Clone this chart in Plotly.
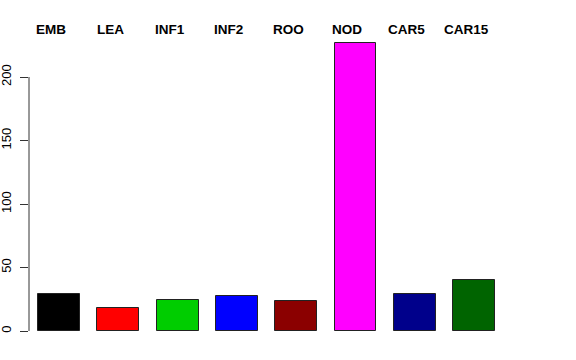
import plotly.graph_objects as go

categories = ["EMB", "LEA", "INF1", "INF2", "ROO", "NOD", "CAR5", "CAR15"]
values = [29.1, 17.9, 24.2, 27.6, 23.6, 226.5, 29.1, 39.9]
colors = ["#000000", "#FF0000", "#00CD00", "#0000FF", "#8B0000", "#FF00FF", "#00008B", "#006400"]
y_ticks = [0, 50, 100, 150, 200]

W, H = 576, 360
left, right, top, bottom = 29, 526, 40, 345
px_per_cat = 59.3
center0 = 59.0
x_min = -(center0 - left) / px_per_cat
x_max = (right - center0) / px_per_cat
y0_pix = 331.0
px_per_unit = 1.27
y_min = -(bottom - y0_pix) / px_per_unit
y_max = (y0_pix - top) / px_per_unit

xs = list(range(len(categories)))

fig = go.Figure()
fig.add_trace(go.Bar(
    x=xs, y=values, width=0.708,
    marker=dict(color=colors, line=dict(color="#222222", width=1)),
    showlegend=False, hoverinfo="skip",
))

label_y_paper = (bottom - 30) / (bottom - top)
for i, c in enumerate(categories):
    fig.add_annotation(
        x=i - 0.135, y=label_y_paper, xref="x", yref="paper",
        text="<b>" + c + "</b>", showarrow=False,
        font=dict(family="Liberation Sans, Arial, sans-serif", size=13.5, color="black"),
        xanchor="center", yanchor="middle",
    )

fig.add_shape(type="line", xref="paper", yref="y", x0=0, x1=0, y0=y_ticks[0], y1=y_ticks[-1],
              line=dict(color="#333333", width=1))

fig.update_layout(
    width=W, height=H,
    margin=dict(l=left, r=W - right, t=top, b=H - bottom, pad=0, autoexpand=False),
    paper_bgcolor="white", plot_bgcolor="white",
    xaxis=dict(range=[x_min, x_max], visible=False, fixedrange=True, automargin=False),
    yaxis=dict(range=[y_min, y_max], tickvals=y_ticks, ticktext=[str(v) for v in y_ticks],
               ticks="outside", ticklen=8, tickwidth=1, tickcolor="#333333",
               tickangle=-90, showgrid=False, zeroline=False, showline=False,
               ticklabelstandoff=4, automargin=False,
               tickfont=dict(family="Liberation Sans, Arial, sans-serif", size=13, color="black")),
    bargap=0,
)

fig.write_html("out.html")
